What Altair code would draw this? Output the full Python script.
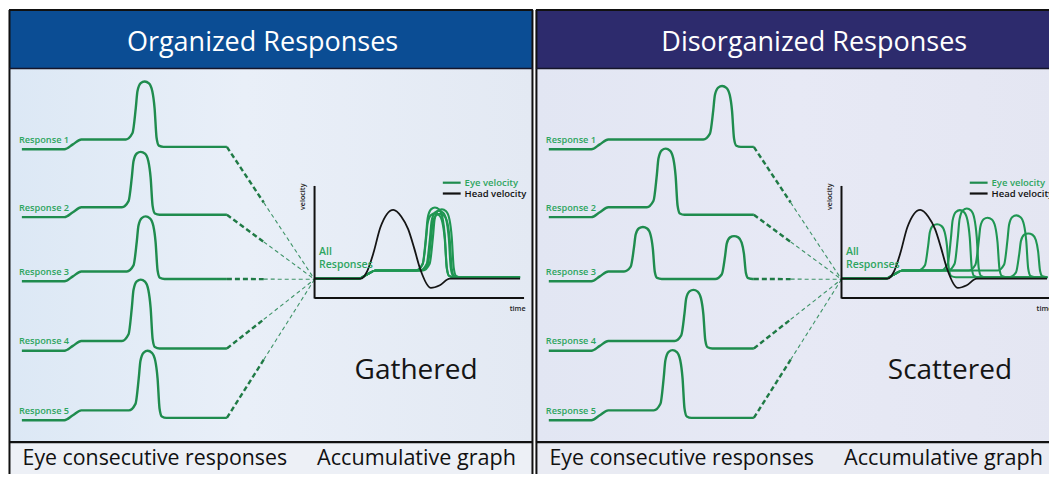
import altair as alt
import pandas as pd

# ---------------- values (panel-local pixels) ----------------
panel_titles = ["Organized Responses", "Disorganized Responses"]
panel_shift = [0, 532]                 # right panel sits 532 px right of the left one
title_x = [263, 288]
header_colors = ["#0b4d94", "#2d2b6d"]
result_words = ["Gathered", "Scattered"]
result_x = [418, 425]
caption_left = "Eye consecutive responses"
caption_right = "Accumulative graph"

response_names = ["Response 1", "Response 2", "Response 3", "Response 4", "Response 5"]
response_base = [151.7, 220.7, 286.0, 356.7, 427.3]

# pulses of each panel: response index, peak position, height above baseline
org_pulse_resp = [0, 1, 2, 3, 4]
org_pulse_x = [144, 140, 145, 140, 147]
org_pulse_h = [69.0, 66.4, 66.0, 72.4, 70.6]
dis_pulse_resp = [0, 1, 2, 2, 3, 4]
dis_pulse_x = [195, 138, 115, 207, 166, 145]
dis_pulse_h = [64.4, 69.7, 55.3, 46.0, 62.0, 71.3]

# head velocity in the accumulative graph
head_t = [315, 362, 368, 375, 382, 395, 403, 410, 416, 422, 433, 442, 452, 523]
head_v = [283.3, 283.3, 277, 257, 231, 213.3, 220, 233, 252, 273, 292.7, 290, 283.3, 283.3]

graph_base = 283.3
graph_shift = 297
conv = (315.5, 284.0)

# pulse outline (offsets from the peak, fraction of height)
RISE_DX = [-19, -12.3, -9, -7.3, -4, 0]
RISE_F = [0, 0.11, 0.54, 0.83, 0.97, 1]
FALL_DX = [4.3, 7.7, 10, 12, 14.3, 19]
FALL_F = [0.97, 0.85, 0.59, 0.14, 0.02, 0]

GREEN = "#1f8c4e"
GREEN_T = "#2ea55f"
FONT = "Open Sans"


def trace_points(base, pulses, x_start, sx0, sx1, x_end, step, drop):
    pts = [(x_start, base), (sx0, base), ((sx0 + sx1) / 2, base - step / 2), (sx1, base - step)]
    level = base - step
    after = base - drop
    for px, h in sorted(pulses):
        top = base - h
        for dx, f in zip(RISE_DX, RISE_F):
            pts.append((px + dx, level - f * (level - top)))
        for dx, f in zip(FALL_DX, FALL_F):
            pts.append((px + dx, after - f * (after - top)))
        level = after
    pts.append((max(x_end, pts[-1][0] + 1), after))
    return pts


resp_rows, graph_rows, head_rows = [], [], []
rules, dash_thick, dash_thin = [], [], []
rects, grad_l, grad_r = [], [], []
t_title, t_cap_l, t_cap_c, t_big, t_label, t_green_small, t_tiny, t_rot = ([] for _ in range(8))

panels = [(org_pulse_resp, org_pulse_x, org_pulse_h), (dis_pulse_resp, dis_pulse_x, dis_pulse_h)]
for p, (pr, px, ph) in enumerate(panels):
    s = panel_shift[p]
    # backgrounds
    rects.append({"x": 7 + s, "x2": 536 + s, "y": 10, "y2": 69.5, "c": header_colors[p]})
    rects.append({"x": 7 + s, "x2": 536 + s, "y": 449.5, "y2": 490, "c": "#edf0f6" if p == 0 else "#e9ebf3"})
    (grad_l if p == 0 else grad_r).append({"x": 7 + s, "x2": 536 + s, "y": 69.5, "y2": 449.5})
    # frame
    for (x1, y1, x2, y2, w, c) in [
        (7 + s, 10, 536 + s, 10, 2, "#111111"),
        (7.5 + s, 10, 7.5 + s, 490, 2, "#111111"),
        (535.5 + s, 10, 535.5 + s, 490, 2, "#111111"),
        (7 + s, 69.5, 536 + s, 69.5, 1.6, "#15152a"),
        (7 + s, 449.5, 536 + s, 449.5, 2.2, "#111111"),
        # graph axes
        (315.5 + s, 189, 315.5 + s, 303.5, 2, "#111111"),
        (315.5 + s, 303, 527 + s, 303, 2, "#111111"),
        # legend keys
        (445 + s, 185.7, 463 + s, 185.7, 2.2, GREEN),
        (445 + s, 196.7, 463 + s, 196.7, 2.2, "#111111"),
    ]:
        rules.append({"x": x1, "y": y1, "x2": x2, "y2": y2, "w": w, "c": c})

    # response traces and their copies in the accumulative graph
    for r, base in enumerate(response_base):
        pulses = [(px[k], ph[k]) for k in range(len(pr)) if pr[k] == r]
        pts = trace_points(base, pulses, 20, 63, 80, 227, 10, 2.4)
        for i, (x, y) in enumerate(pts):
            resp_rows.append({"x": x + s, "y": y, "id": f"{p}-{r}", "i": i})
        gp = [(x0 + graph_shift, h) for x0, h in pulses]
        gpts = trace_points(graph_base, gp, 315.5, 360, 377, 523, 8.3, 1.5)
        for i, (x, y) in enumerate(gpts):
            graph_rows.append({"x": x + s, "y": y, "id": f"{p}-{r}", "i": i})
        # dashed connection to the graph
        ex, ey = pts[-1]
        mx = ex + 0.42 * (conv[0] - ex)
        my = ey + 0.42 * (conv[1] - ey)
        dash_thick.append({"x": ex + s, "y": ey, "x2": mx + s, "y2": my})
        dash_thin.append({"x": mx + s, "y": my, "x2": conv[0] + s, "y2": conv[1]})
        t_label.append({"x": 17 + s, "y": base - 6.5, "t": response_names[r]})

    for i, (t, v) in enumerate(zip(head_t, head_v)):
        head_rows.append({"x": t + s, "y": v, "id": f"h{p}", "i": i})

    t_title.append({"x": title_x[p] + s, "y": 51.5, "t": panel_titles[p]})
    t_cap_l.append({"x": 20.7 + s, "y": 473, "t": caption_left})
    t_cap_c.append({"x": 418.5 + s, "y": 473, "t": caption_right})
    t_big.append({"x": result_x[p] + s, "y": 385, "t": result_words[p]})
    t_green_small.append({"x": 320 + s, "y": 259.5, "t": "All"})
    t_green_small.append({"x": 320 + s, "y": 272.5, "t": "Responses"})
    t_tiny.append({"x": 467 + s, "y": 189.5, "t": "Eye velocity", "c": GREEN_T})
    t_tiny.append({"x": 467 + s, "y": 200.5, "t": "Head velocity", "c": "#111111"})
    t_rot.append({"x": 303.5 + s, "y": 200, "t": "velocity", "a": 270})
    t_rot.append({"x": 520.5 + s, "y": 314.5, "t": "time", "a": 0})

X = alt.X("x:Q", scale=alt.Scale(domain=[6, 1057], nice=False, zero=False), axis=None)
Y = alt.Y("y:Q", scale=alt.Scale(domain=[482, 8], nice=False, zero=False), axis=None)
X2 = alt.X2("x2:Q")
Y2 = alt.Y2("y2:Q")

bg_rect = alt.Chart(pd.DataFrame(rects)).mark_rect(clip=True).encode(
    x=X, x2=X2, y=Y, y2=Y2, color=alt.Color("c:N", scale=None))
grad_left = alt.Chart(pd.DataFrame(grad_l)).mark_rect(clip=True, fill={
    "gradient": "linear", "x1": 0, "x2": 1, "y1": 0, "y2": 0,
    "stops": [{"offset": 0, "color": "#dce8f5"}, {"offset": 0.45, "color": "#e9eff8"},
              {"offset": 1, "color": "#e3e9f3"}]}).encode(x=X, x2=X2, y=Y, y2=Y2)
grad_right = alt.Chart(pd.DataFrame(grad_r)).mark_rect(clip=True, fill={
    "gradient": "linear", "x1": 0, "x2": 1, "y1": 0, "y2": 0,
    "stops": [{"offset": 0, "color": "#e2e6f3"}, {"offset": 0.5, "color": "#e7e9f5"},
              {"offset": 1, "color": "#e4e6f2"}]}).encode(x=X, x2=X2, y=Y, y2=Y2)

frame = alt.Chart(pd.DataFrame(rules)).mark_rule(clip=True).encode(
    x=X, x2=X2, y=Y, y2=Y2, color=alt.Color("c:N", scale=None),
    strokeWidth=alt.StrokeWidth("w:Q", scale=None))

d1 = alt.Chart(pd.DataFrame(dash_thick)).mark_rule(
    clip=True, color="#1f7a45", strokeWidth=2.4, strokeDash=[5, 3]).encode(x=X, x2=X2, y=Y, y2=Y2)
d2 = alt.Chart(pd.DataFrame(dash_thin)).mark_rule(
    clip=True, color="#3f9468", strokeWidth=1.1, strokeDash=[4, 3]).encode(x=X, x2=X2, y=Y, y2=Y2)

resp = alt.Chart(pd.DataFrame(resp_rows)).mark_line(
    clip=True, color=GREEN, strokeWidth=2.4, interpolate="monotone").encode(
    x=X, y=Y, detail="id:N", order="i:Q")
eye = alt.Chart(pd.DataFrame(graph_rows)).mark_line(
    clip=True, color="#1f9652", strokeWidth=2.1, interpolate="monotone").encode(
    x=X, y=Y, detail="id:N", order="i:Q")
head = alt.Chart(pd.DataFrame(head_rows)).mark_line(
    clip=True, color="#151515", strokeWidth=1.8, interpolate="monotone").encode(
    x=X, y=Y, detail="id:N", order="i:Q")


def txt(rows, **kw):
    return alt.Chart(pd.DataFrame(rows)).mark_text(font=FONT, **kw).encode(x=X, y=Y, text="t:N")


titles = txt(t_title, fontSize=27, color="white", align="center", baseline="alphabetic")
cap_l = txt(t_cap_l, fontSize=21.3, color="#111111", align="left", baseline="alphabetic")
cap_c = txt(t_cap_c, fontSize=21.6, color="#111111", align="center", baseline="alphabetic")
big = txt(t_big, fontSize=28, color="#151515", align="center", baseline="alphabetic")
labels = txt(t_label, fontSize=9.2, fontWeight=600, color=GREEN_T, align="left", baseline="alphabetic")
greens = txt(t_green_small, fontSize=10.5, fontWeight=600, color=GREEN_T, align="left", baseline="alphabetic")
legend_t = alt.Chart(pd.DataFrame(t_tiny)).mark_text(
    font=FONT, fontSize=9.5, fontWeight=600, align="left", baseline="alphabetic", clip=True).encode(
    x=X, y=Y, text="t:N", color=alt.Color("c:N", scale=None))
rot_t = alt.Chart(pd.DataFrame(t_rot)).mark_text(
    font=FONT, fontSize=7.2, fontWeight=600, color="#222222", align="center", baseline="middle").encode(
    x=X, y=Y, text="t:N", angle=alt.Angle("a:Q", scale=None))

chart = alt.layer(
    bg_rect, grad_left, grad_right, d2, d1, resp, eye, head, frame,
    titles, cap_l, cap_c, big, labels, greens, legend_t, rot_t
).properties(
    width=1041, height=466, padding=0, background="white",
    autosize=alt.AutoSizeParams(type="none")
).configure_view(stroke=None)

chart.save("out.html", embed_options={"renderer": "svg", "actions": False})
